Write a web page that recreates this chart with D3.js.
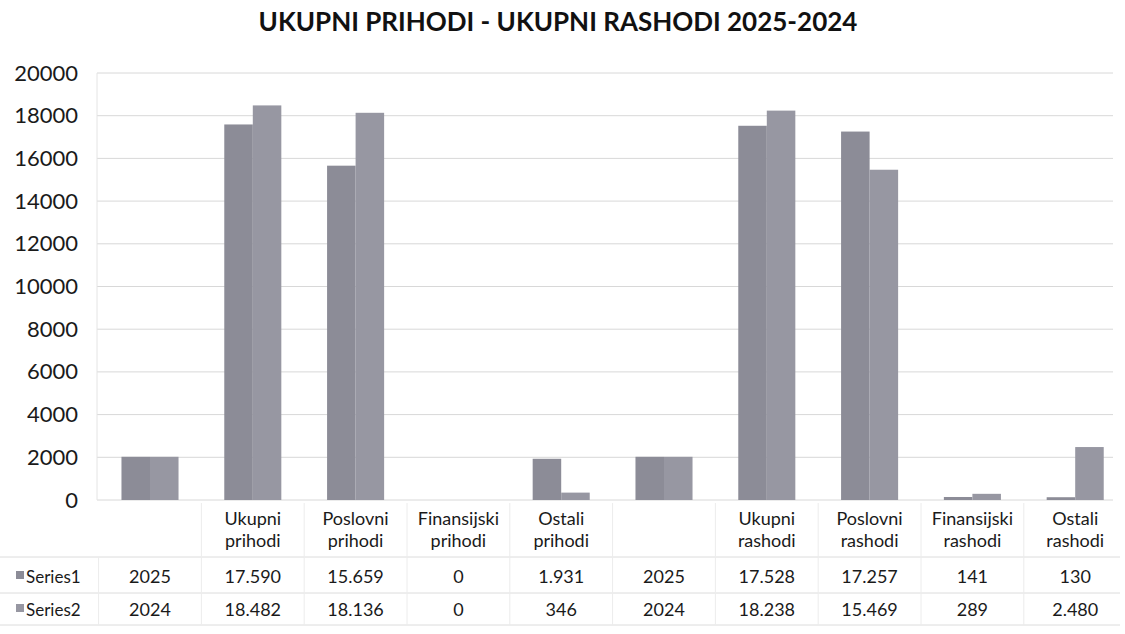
<!DOCTYPE html>
<html>
<head>
<meta charset="utf-8">
<script src="https://cdn.jsdelivr.net/npm/d3@7"></script>
<style>
  body { margin: 0; background: #fff; }
  svg { font-family: Lato, "Open Sans", sans-serif; }
</style>
</head>
<body>
<div id="chart"></div>
<script>
// chart data
var categories = ["", "Ukupni prihodi", "Poslovni prihodi", "Finansijski prihodi", "Ostali prihodi",
                  "", "Ukupni rashodi", "Poslovni rashodi", "Finansijski rashodi", "Ostali rashodi"];
var series1 = [2025, 17590, 15659, 0, 1931, 2025, 17528, 17257, 141, 130];
var series2 = [2024, 18482, 18136, 0, 346, 2024, 18238, 15469, 289, 2480];
var seriesNames = ["Series1", "Series2"];
var yTicks = [0, 2000, 4000, 6000, 8000, 10000, 12000, 14000, 16000, 18000, 20000];

var width = 1125, height = 634;
var colors = ["#8c8c97", "#9797a2"];

var svg = d3.select("#chart").append("svg")
    .attr("width", width)
    .attr("height", height);

// title
svg.append("text")
    .attr("x", 558)
    .attr("y", 31)
    .attr("text-anchor", "middle")
    .style("font-size", "26px")
    .style("font-weight", "bold")
    .style("fill", "#111")
    .text("UKUPNI PRIHODI - UKUPNI RASHODI 2025-2024");

var y = d3.scaleLinear().domain([0, 20000]).range([500, 73]);
var x = d3.scaleBand().domain(d3.range(categories.length))
    .range([98.6, 1126.6]).paddingInner(0.445).paddingOuter(0.2225);
var xs = d3.scaleBand().domain([0, 1]).range([0, x.bandwidth()]);

// gridlines
svg.append("g").selectAll("line")
    .data(yTicks)
    .join("line")
    .attr("x1", 97).attr("x2", 1113)
    .attr("y1", d => y(d)).attr("y2", d => y(d))
    .attr("stroke", "#d8d8d8")
    .attr("stroke-width", 1);

svg.append("line")
    .attr("x1", 97).attr("x2", 97)
    .attr("y1", 73).attr("y2", 500)
    .attr("stroke", "#e4e4e4");

// y axis labels
var yAxis = svg.append("g")
    .attr("transform", "translate(97,0)")
    .call(d3.axisLeft(y).tickValues(yTicks).tickSize(0).tickPadding(19).tickFormat(d3.format("d")));
yAxis.select(".domain").remove();
yAxis.selectAll("text")
    .style("font-size", "22px")
    .style("fill", "#1a1a1a")
    .style("font-family", "Lato, 'Open Sans', sans-serif");

// bars
var data = [series1, series2];
data.forEach(function(vals, s) {
    svg.append("g").selectAll("rect")
        .data(vals)
        .join("rect")
        .attr("x", (d, i) => x(i) + xs(s))
        .attr("y", d => y(d))
        .attr("width", xs.bandwidth())
        .attr("height", d => y(0) - y(d))
        .attr("fill", colors[s]);
});

// data table
var step = x.step();
var tableTop = 503, rowA = 557, rowB = 593, rowC = 625;
var lineColor = "#dcdcdc";

var table = svg.append("g");
// horizontal lines
[rowA, rowB, rowC].forEach(function(yy) {
    table.append("line")
        .attr("x1", 0).attr("x2", 1120)
        .attr("y1", yy).attr("y2", yy)
        .attr("stroke", lineColor);
});
// vertical lines
d3.range(categories.length + 1).forEach(function(i) {
    var xx = x(0) - x.paddingOuter() * step + i * step;
    table.append("line")
        .attr("x1", xx).attr("x2", xx)
        .attr("y1", i === 0 ? rowA : tableTop).attr("y2", rowC)
        .attr("stroke", "#ececec");
});

// category labels
categories.forEach(function(c, i) {
    var words = c.split(" ");
    var t = table.append("text")
        .attr("x", x(i) + x.bandwidth() / 2)
        .attr("y", 525)
        .attr("text-anchor", "middle")
        .style("font-size", "18px")
        .style("fill", "#1a1a1a");
    words.forEach(function(w, k) {
        t.append("tspan")
            .attr("x", x(i) + x.bandwidth() / 2)
            .attr("dy", k === 0 ? 0 : 22)
            .text(w);
    });
});

var fmt = d3.formatLocale({decimal: ",", thousands: ".", grouping: [3], currency: ["", ""]}).format(",d");

data.forEach(function(vals, s) {
    var rowY = s === 0 ? 583 : 616;
    // legend key
    table.append("rect")
        .attr("x", 16).attr("y", rowY - 12)
        .attr("width", 8).attr("height", 8)
        .attr("fill", colors[s]);
    table.append("text")
        .attr("x", 26).attr("y", rowY)
        .style("font-size", "17px")
        .style("fill", "#1a1a1a")
        .text(seriesNames[s]);
    table.append("g").selectAll("text")
        .data(vals)
        .join("text")
        .attr("x", (d, i) => x(i) + x.bandwidth() / 2)
        .attr("y", rowY)
        .attr("text-anchor", "middle")
        .style("font-size", "18px")
        .style("fill", "#1a1a1a")
        .text((d, i) => (i === 0 || i === 5) ? String(d) : fmt(d));
});
</script>
</body>
</html>
